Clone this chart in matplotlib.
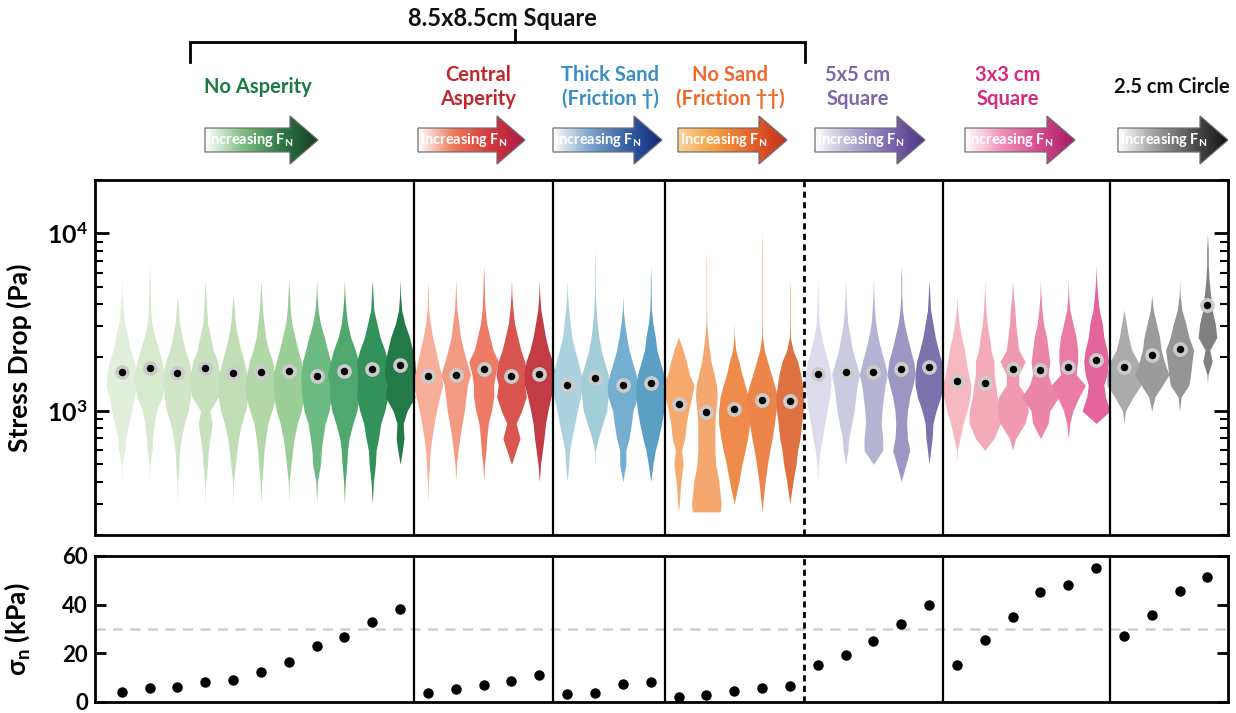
import numpy as np
import matplotlib
matplotlib.use('Agg')
import matplotlib.pyplot as plt
from matplotlib.patches import Polygon
from matplotlib.colors import LinearSegmentedColormap
from matplotlib.ticker import FuncFormatter, LogLocator, NullFormatter

plt.rcParams['font.family'] = ['Lato', 'DejaVu Sans']
plt.rcParams['font.weight'] = 'bold'
plt.rcParams['mathtext.fontset'] = 'custom'
plt.rcParams['mathtext.rm'] = 'Lato:bold'
plt.rcParams['mathtext.bf'] = 'Lato:bold'
plt.rcParams['mathtext.it'] = 'Lato:bold'

# ---------------- data ----------------
group_names = ['No Asperity', 'Central\nAsperity', 'Thick Sand\n(Friction \u2020)',
               'No Sand\n(Friction \u2020\u2020)', '5x5 cm\nSquare', '3x3 cm\nSquare',
               '2.5 cm Circle']
group_sizes = [11, 5, 4, 5, 5, 6, 4]

# stress-drop levels (Pa) at which violin densities are given
levels = [270, 300, 400, 500, 600, 700, 850, 1000, 1200, 1400, 1600, 1900,
          2200, 2600, 3100, 3700, 4500, 5500, 6600, 8000, 10000]

# median stress drop (Pa) per experiment
median_no_asperity = [1666, 1738, 1645, 1738, 1630, 1650, 1680, 1583, 1680, 1724, 1815]
median_central = [1575, 1596, 1724, 1583, 1610]
median_thick_sand = [1403, 1528, 1403, 1434]
median_no_sand = [1098, 983, 1030, 1157, 1133]
median_5x5 = [1616, 1650, 1650, 1724, 1760]
median_3x3 = [1465, 1434, 1724, 1701, 1760, 1935]
median_circle = [1777, 2063, 2228, 3927]

# normal stress (kPa) per experiment
sigma_no_asperity = [4.1, 5.7, 6.2, 8.1, 9.0, 12.5, 16.4, 23.1, 26.9, 32.8, 38.4]
sigma_central = [3.8, 5.3, 6.8, 8.8, 10.9]
sigma_thick_sand = [3.1, 3.8, 7.3, 8.1]
sigma_no_sand = [2.0, 2.9, 4.7, 5.8, 6.4]
sigma_5x5 = [15.1, 19.3, 25.0, 32.0, 39.9]
sigma_3x3 = [15.2, 25.5, 34.8, 45.1, 48.0, 55.0]
sigma_circle = [27.3, 35.8, 45.5, 51.5]

# relative density (0-10) at each level, one row per experiment
density_no_asperity = [
    [0, 0, 0, 0.3, 2, 2.5, 4.5, 6.5, 8, 10, 9.5, 8, 5.5, 4, 2, 1, 0.3, 0, 0, 0, 0],
    [0, 0, 0, 0.3, 1.5, 2, 3, 4.5, 8, 9.5, 10, 8, 6, 3.5, 1.5, 0.8, 0.5, 0.3, 0, 0, 0],
    [0, 0, 0.3, 1, 1.5, 2.5, 4.5, 7, 8.5, 9, 9, 7.5, 5, 3, 1.5, 0.8, 0, 0, 0, 0, 0],
    [0, 0, 0.3, 1.5, 2, 3, 4.5, 3, 8.5, 10, 9.5, 8, 5, 3.5, 1.5, 1, 0.5, 0, 0, 0, 0],
    [0, 0, 0.3, 1.5, 2.5, 3.5, 5.5, 8, 9.5, 10, 9, 7, 5, 3, 1.5, 0.8, 0, 0, 0, 0, 0],
    [0, 0, 0.5, 1.5, 2, 3, 4.5, 7, 9.5, 10, 9, 7.5, 5, 3, 2, 1, 0.5, 0, 0, 0, 0],
    [0, 0, 0.3, 1.5, 2.5, 3.5, 5.5, 8, 9.5, 10, 10, 8, 6, 4, 2, 1, 0.5, 0, 0, 0, 0],
    [0, 0, 0.5, 2.5, 3, 4, 5.5, 8, 9.5, 10, 10, 9, 7, 5, 2.5, 1, 0.3, 0, 0, 0, 0],
    [0, 0, 0.5, 1.5, 2, 3, 5.5, 8, 9.5, 9.5, 11, 9, 7, 4, 2, 1, 0.3, 0, 0, 0, 0],
    [0, 0, 0.8, 2, 2.5, 4, 5.5, 8, 10, 9.5, 9.5, 10, 8, 5, 3, 1, 0.5, 0, 0, 0, 0],
    [0, 0, 0, 0, 1.5, 2.5, 2, 4.5, 9.5, 8.5, 10, 9.5, 8, 6, 3, 1, 0.3, 0, 0, 0, 0],
]
density_central = [
    [0, 0, 0.3, 1, 1.5, 2.5, 4, 5.5, 7.5, 9.5, 8.5, 6.5, 5, 3, 1.5, 0.5, 0.3, 0, 0, 0, 0],
    [0, 0, 0, 0.5, 1.5, 2.5, 4, 5.5, 6.5, 7.5, 9.5, 7, 5, 3, 2, 0.8, 0.3, 0, 0, 0, 0],
    [0, 0, 0, 0.5, 1.5, 2, 3, 5, 6.5, 6.5, 7.5, 9.5, 6, 4, 2, 1, 0.5, 0.3, 0, 0, 0],
    [0, 0, 0, 0, 3, 5.5, 3, 6.5, 9.5, 8.5, 10, 8.5, 6, 4, 2, 1, 0.3, 0, 0, 0, 0],
    [0, 0, 0, 0.8, 2, 3, 4, 5.5, 7.5, 9.5, 10, 8.5, 6, 4, 2.5, 1, 0.3, 0, 0, 0, 0],
]
density_thick_sand = [
    [0, 0, 0, 1, 1.5, 3, 5, 6.5, 8.5, 10, 9, 7, 5, 3, 2, 1, 0.3, 0, 0, 0, 0],
    [0, 0, 0, 0, 0.3, 2, 5, 7.5, 8.5, 9.5, 8.5, 6, 4, 2.5, 1.5, 0.8, 0.3, 0.2, 0.2, 0, 0],
    [0, 0, 0, 2, 2, 4, 5.5, 6.5, 9.5, 10, 8.5, 6, 4, 2.5, 1.2, 0.3, 0, 0, 0, 0, 0],
    [0, 0, 0, 1.5, 3, 5, 7, 8.5, 9.5, 9.5, 8.5, 6, 4, 3, 1.5, 0.5, 0.3, 0.2, 0, 0, 0],
]
density_no_sand = [
    [0, 0.5, 1.5, 3, 2, 4, 5, 6.5, 8.5, 10, 7, 5, 3, 0, 0, 0, 0, 0, 0, 0, 0],
    [9, 9.5, 8, 6, 5.5, 5.5, 5.5, 6, 7, 6.5, 5, 3, 2, 1, 0.3, 0.15, 0.15, 0.15, 0.15, 0, 0],
    [0, 0, 3, 5, 7, 8.5, 10, 10, 9, 7, 5, 3, 1, 0.2, 0, 0, 0, 0, 0, 0, 0],
    [0, 0.5, 2, 3.5, 5, 6.5, 8, 9, 10, 8, 6, 3.5, 1.5, 0.3, 0.15, 0.15, 0.15, 0.15, 0.15, 0.15, 0],
    [0, 0, 2, 4, 5, 6.5, 7.5, 8.5, 9, 8, 7, 5, 2, 0.3, 0.15, 0.15, 0.15, 0, 0, 0, 0],
]
density_5x5 = [
    [0, 0, 0, 0.5, 1.5, 3, 4.5, 6, 7.5, 8.5, 8.5, 6.5, 4.5, 2.5, 1, 0.5, 0.3, 0, 0, 0, 0],
    [0, 0, 0, 0, 1.5, 2, 4, 5.5, 6.5, 7.5, 9, 6.5, 4.5, 3, 1.5, 0.8, 0.3, 0, 0, 0, 0],
    [0, 0, 0, 0, 6, 6, 5, 5.5, 6.5, 7.5, 9, 7, 5, 3, 1.5, 0.8, 0.3, 0, 0, 0, 0],
    [0, 0, 0, 3, 5.5, 4, 3.5, 4, 5.5, 7.5, 9, 8, 6, 4, 2, 0.8, 0.3, 0.3, 0, 0, 0],
    [0, 0, 0, 0, 1, 2, 2.5, 4.5, 7.5, 9, 9, 8, 6, 4, 2.5, 1, 0.5, 0, 0, 0, 0],
]
density_3x3 = [
    [0, 0, 0, 0, 0.3, 2, 4, 6.5, 8.5, 9, 7.5, 6, 5, 3, 1.5, 0.5, 0, 0, 0, 0, 0],
    [0, 0, 0, 0, 0, 6, 10, 10, 8, 7, 6, 6, 4, 3, 1.5, 0.8, 0.3, 0, 0, 0, 0],
    [0, 0, 0, 0, 0, 2, 8, 10, 9, 4, 4, 8, 4, 3, 2, 1.5, 0.5, 0, 0, 0, 0],
    [0, 0, 0, 0, 0, 0, 5, 6, 12, 7, 5, 6, 5, 4, 2, 1, 0.3, 0, 0, 0, 0],
    [0, 0, 0, 0, 0, 0, 1, 3, 7, 11, 5, 6, 6, 5, 3, 1, 0.3, 0, 0, 0, 0],
    [0, 0, 0, 0, 0, 0, 0, 9, 6, 5, 7, 8, 7, 5, 4, 2, 1, 0.3, 0, 0, 0],
]
density_circle = [
    [0, 0, 0, 0, 0, 0, 0, 1, 6, 11, 11, 9, 5, 3, 1.5, 0, 0, 0, 0, 0, 0],
    [0, 0, 0, 0, 0, 0, 0, 0, 2, 7, 11, 8, 6, 5, 3, 1, 0, 0, 0, 0, 0],
    [0, 0, 0, 0, 0, 0, 0, 0, 1, 6, 7, 8, 9, 6, 4, 1.5, 0.3, 0, 0, 0, 0],
    [0, 0, 0, 0, 0, 0, 0, 0, 0, 0, 0.3, 3, 1.5, 6, 5, 3, 2, 1, 0.5, 0.5, 0],
]

medians = [median_no_asperity, median_central, median_thick_sand, median_no_sand,
           median_5x5, median_3x3, median_circle]
sigmas = [sigma_no_asperity, sigma_central, sigma_thick_sand, sigma_no_sand,
          sigma_5x5, sigma_3x3, sigma_circle]
densities = [density_no_asperity, density_central, density_thick_sand, density_no_sand,
             density_5x5, density_3x3, density_circle]

# ---------------- styles ----------------
violin_colors = [
    ['#e2efda', '#d8eace', '#d0e6c6', '#c8e2bd', '#c0deb5', '#b2d8a8', '#9ccf98',
     '#6dbb82', '#50a86e', '#33925a', '#237a47'],
    ['#f6ae98', '#f29a82', '#ee7b66', '#d9554f', '#c23b45'],
    ['#abd2de', '#a2cdd9', '#74aed1', '#5c9fc5'],
    ['#f6aa6e', '#f4a76e', '#ee8a4a', '#ec854a', '#de7242'],
    ['#dcdcec', '#cacae0', '#b5b4d3', '#9d97c3', '#7c72ad'],
    ['#f7b9c1', '#f4abb9', '#f09ab2', '#ec86a9', '#e97ba5', '#e4659b'],
    ['#ababab', '#9b9b9b', '#959595', '#808080'],
]
title_colors = ['#1a7a40', '#c1272d', '#3a8fc4', '#ee6a2a', '#7d68aa', '#d42a7f', '#111111']
title_px = [258, 478, 610, 730, 858, 1008, 1172]
arrow_px = [(205, 318), (418, 525), (553, 662), (678, 787), (815, 925), (965, 1075), (1118, 1228)]
arrow_cols = [
    ['#ffffff', '#7fbf85', '#2f7a45', '#163d22'],
    ['#ffffff', '#f07a5a', '#d8383a', '#a81c4a'],
    ['#ffffff', '#7ea6cc', '#3763a8', '#14237a'],
    ['#fbd49a', '#f4a040', '#e8622a', '#c2301e'],
    ['#ffffff', '#b4aed2', '#7e6cb0', '#4e3486'],
    ['#ffffff', '#f090b8', '#d64c8e', '#a41a64'],
    ['#ffffff', '#a0a0a0', '#555555', '#111111'],
]

W, H = 1236, 713
fig = plt.figure(figsize=(W / 100, H / 100), dpi=100)

AX_L, AX_R = 95, 1228
X0_PX, PX_PER = 121.7, 27.84
xlim = ((AX_L - X0_PX) / PX_PER, (AX_R - X0_PX) / PX_PER)


def fx(px):
    return (px - X0_PX) / PX_PER


def fig_rect(top_px, bot_px):
    return [AX_L / W, 1 - bot_px / H, (AX_R - AX_L) / W, (bot_px - top_px) / H]


ax = fig.add_axes(fig_rect(180, 535))
axb = fig.add_axes(fig_rect(556, 702))
axt = fig.add_axes(fig_rect(0, 176))

# positions
positions = []
start = 0
bounds = []
for n in group_sizes:
    positions.append(list(range(start, start + n)))
    start += n
    bounds.append(start - 0.5)
bounds = bounds[:-1]

HW = 0.056
lv = np.array(levels, dtype=float)
for g in range(len(group_sizes)):
    for k, p in enumerate(positions[g]):
        hw = np.array(densities[g][k]) * HW
        ax.fill_betweenx(lv, p - hw, p + hw, color=violin_colors[g][k], lw=0, zorder=2)
    ax.plot(positions[g], medians[g], 'o', ms=8, mfc='black', mec='#cbcbcb', mew=2.6, zorder=5)
    axb.plot(positions[g], sigmas[g], 'o', ms=7.5, color='black', mew=0, zorder=5)

ax.set_yscale('log')
ax.set_ylim(200, 20000)
for a in (ax, axb):
    a.set_xlim(*xlim)
    a.set_xticks([])
    for s in a.spines.values():
        s.set_linewidth(2)
    for i, b in enumerate(bounds):
        if i == 3:
            a.axvline(b, color='black', lw=2, ls=(0, (2.2, 1.6)), zorder=3)
        else:
            a.axvline(b, color='black', lw=1.6, zorder=3)

ax.yaxis.set_major_locator(LogLocator(base=10, numticks=10))
ax.yaxis.set_minor_locator(LogLocator(base=10, subs=np.arange(2, 10), numticks=20))
ax.yaxis.set_minor_formatter(NullFormatter())
ax.yaxis.set_major_formatter(FuncFormatter(lambda v, p: r'$\mathbf{10^{%d}}$' % round(np.log10(v))))
ax.tick_params(axis='y', which='major', direction='in', length=10, width=2, left=True, right=True,
               labelsize=18, pad=5)
ax.tick_params(axis='y', which='minor', direction='in', length=6, width=1.5, left=True, right=True)
ax.set_ylabel('Stress Drop (Pa)', fontsize=19, fontweight='bold')
ax.yaxis.set_label_coords(-0.056, 0.5)

axb.set_ylim(0, 60)
axb.set_yticks([0, 20, 40, 60])
axb.tick_params(axis='y', direction='in', length=8, width=2, left=True, right=True,
                labelsize=16, pad=5)
for t in axb.get_yticklabels():
    t.set_fontweight('bold')
    t.set_verticalalignment('center_baseline')
axb.axhline(30, color='#cfcfcf', lw=1.8, ls=(0, (4, 3)), zorder=1)
axb.set_ylabel('\u03c3$_\\mathregular{n}$ (kPa)', fontsize=19, fontweight='bold')
axb.yaxis.set_label_coords(-0.056, 0.5)

# ---------------- top annotation area ----------------
axt.set_xlim(*xlim)
axt.set_ylim(176, 0)
axt.axis('off')

axt.text(fx(502), 18, '8.5x8.5cm Square', ha='center', va='center', fontsize=17,
         fontweight='bold', color='#111111')
axt.plot([fx(190), fx(190), fx(805), fx(805)], [62, 42, 42, 62], color='black', lw=2,
         solid_joinstyle='miter', clip_on=False)
axt.plot([fx(515), fx(515)], [42, 30], color='black', lw=2, clip_on=False)

for g, name in enumerate(group_names):
    axt.text(fx(title_px[g]), 87, name, ha='center', va='center', fontsize=14.5,
             fontweight='bold', color=title_colors[g], linespacing=1.25)
    x0, x1 = fx(arrow_px[g][0]), fx(arrow_px[g][1])
    head = 28 / PX_PER
    yb0, yb1, yh0, yh1, ym = 128, 152, 116, 164, 140
    verts = [(x0, yb0), (x1 - head, yb0), (x1 - head, yh0), (x1, ym),
             (x1 - head, yh1), (x1 - head, yb1), (x0, yb1)]
    poly = Polygon(verts, closed=True, fc='none', ec='#6f6f6f', lw=0.9, zorder=4)
    axt.add_patch(poly)
    cmap = LinearSegmentedColormap.from_list('a%d' % g, arrow_cols[g])
    im = axt.imshow(np.linspace(0, 1, 256)[None, :], cmap=cmap, extent=(x0, x1, yh1, yh0),
                    aspect='auto', zorder=3, interpolation='bilinear')
    im.set_clip_path(poly)
    axt.text(x0 + 1.5 / PX_PER, ym, 'Increasing F$_\\mathregular{N}$', ha='left', va='center',
             fontsize=10.5, fontweight='bold', color='white', zorder=5)

axt.set_xlim(*xlim)
axt.set_ylim(176, 0)

fig.savefig('out.png', dpi=100)
